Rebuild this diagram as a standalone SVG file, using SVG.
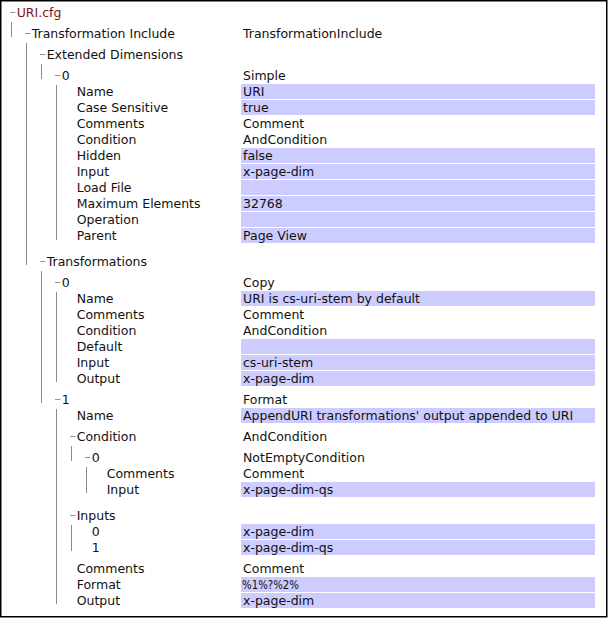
<svg xmlns="http://www.w3.org/2000/svg" width="608" height="618" viewBox="0 0 608 618">
<style>
text{font-family:"DejaVu Sans","Liberation Sans",sans-serif;font-size:12.5px;fill:#111}
.root{fill:#7f1414}
.hl{fill:#ccccff}
.tree line{stroke:#8c8c8c;stroke-width:1}
.dash{stroke:#999;stroke-width:1}
</style>
<rect x="0.75" y="0.75" width="606" height="616" fill="#fff" stroke="#000" stroke-width="1.5"/>
<g id="connectors" class="tree">
<line x1="11.5" y1="22" x2="11.5" y2="37"/>
<line x1="26.5" y1="43" x2="26.5" y2="265"/>
<line x1="41.5" y1="64" x2="41.5" y2="79"/>
<line x1="56.5" y1="85" x2="56.5" y2="240"/>
<line x1="41.5" y1="271" x2="41.5" y2="403"/>
<line x1="56.5" y1="292" x2="56.5" y2="382"/>
<line x1="56.5" y1="409" x2="56.5" y2="604"/>
<line x1="71.5" y1="446" x2="71.5" y2="461"/>
<line x1="86.5" y1="467" x2="86.5" y2="493"/>
<line x1="71.5" y1="525" x2="71.5" y2="551"/>
</g>
<g id="n-uricfg"><line class="dash" x1="10" y1="12.5" x2="15.5" y2="12.5"/><text class="root" x="16.7" y="17">URI.cfg</text></g>
<g id="n-ti"><line class="dash" x1="25" y1="33.5" x2="30.5" y2="33.5"/><text x="31.7" y="38">Transformation Include</text><text x="243" y="38">TransformationInclude</text></g>
<g id="n-ed"><line class="dash" x1="40" y1="54.5" x2="45.5" y2="54.5"/><text x="46.7" y="59">Extended Dimensions</text></g>
<g id="n-ed0"><line class="dash" x1="55" y1="75.5" x2="60.5" y2="75.5"/><text x="61.7" y="80">0</text><text x="243" y="80">Simple</text></g>
<g id="n-ed0-name"><rect class="hl" x="241" y="84" width="354" height="15"/><text x="76.7" y="96">Name</text><text x="243" y="96">URI</text></g>
<g id="n-ed0-case"><rect class="hl" x="241" y="100" width="354" height="15"/><text x="76.7" y="112">Case Sensitive</text><text x="243" y="112">true</text></g>
<g id="n-ed0-comments"><text x="76.7" y="128">Comments</text><text x="243" y="128">Comment</text></g>
<g id="n-ed0-condition"><text x="76.7" y="144">Condition</text><text x="243" y="144">AndCondition</text></g>
<g id="n-ed0-hidden"><rect class="hl" x="241" y="148" width="354" height="15"/><text x="76.7" y="160">Hidden</text><text x="243" y="160">false</text></g>
<g id="n-ed0-input"><rect class="hl" x="241" y="164" width="354" height="15"/><text x="76.7" y="176">Input</text><text x="243" y="176">x-page-dim</text></g>
<g id="n-ed0-loadfile"><rect class="hl" x="241" y="180" width="354" height="15"/><text x="76.7" y="192">Load File</text></g>
<g id="n-ed0-max"><rect class="hl" x="241" y="196" width="354" height="15"/><text x="76.7" y="208">Maximum Elements</text><text x="243" y="208">32768</text></g>
<g id="n-ed0-operation"><rect class="hl" x="241" y="212" width="354" height="15"/><text x="76.7" y="224">Operation</text></g>
<g id="n-ed0-parent"><rect class="hl" x="241" y="228" width="354" height="15"/><text x="76.7" y="240">Parent</text><text x="243" y="240">Page View</text></g>
<g id="n-tr"><line class="dash" x1="40" y1="261.5" x2="45.5" y2="261.5"/><text x="46.7" y="266">Transformations</text></g>
<g id="n-tr0"><line class="dash" x1="55" y1="282.5" x2="60.5" y2="282.5"/><text x="61.7" y="287">0</text><text x="243" y="287">Copy</text></g>
<g id="n-tr0-name"><rect class="hl" x="241" y="291" width="354" height="15"/><text x="76.7" y="303">Name</text><text x="243" y="303">URI is cs-uri-stem by default</text></g>
<g id="n-tr0-comments"><text x="76.7" y="319">Comments</text><text x="243" y="319">Comment</text></g>
<g id="n-tr0-condition"><text x="76.7" y="335">Condition</text><text x="243" y="335">AndCondition</text></g>
<g id="n-tr0-default"><rect class="hl" x="241" y="339" width="354" height="15"/><text x="76.7" y="351">Default</text></g>
<g id="n-tr0-input"><rect class="hl" x="241" y="355" width="354" height="15"/><text x="76.7" y="367">Input</text><text x="243" y="367">cs-uri-stem</text></g>
<g id="n-tr0-output"><rect class="hl" x="241" y="371" width="354" height="15"/><text x="76.7" y="383">Output</text><text x="243" y="383">x-page-dim</text></g>
<g id="n-tr1"><line class="dash" x1="55" y1="399.5" x2="60.5" y2="399.5"/><text x="61.7" y="404">1</text><text x="243" y="404">Format</text></g>
<g id="n-tr1-name"><rect class="hl" x="241" y="408" width="354" height="15"/><text x="76.7" y="420">Name</text><text x="243" y="420">AppendURI transformations' output appended to URI</text></g>
<g id="n-tr1-condition"><line class="dash" x1="70" y1="436.5" x2="75.5" y2="436.5"/><text x="76.7" y="441">Condition</text><text x="243" y="441">AndCondition</text></g>
<g id="n-tr1-cond0"><line class="dash" x1="85" y1="457.5" x2="90.5" y2="457.5"/><text x="91.7" y="462">0</text><text x="243" y="462">NotEmptyCondition</text></g>
<g id="n-tr1-cond0-comments"><text x="106.7" y="478">Comments</text><text x="243" y="478">Comment</text></g>
<g id="n-tr1-cond0-input"><rect class="hl" x="241" y="482" width="354" height="15"/><text x="106.7" y="494">Input</text><text x="243" y="494">x-page-dim-qs</text></g>
<g id="n-tr1-inputs"><line class="dash" x1="70" y1="515.5" x2="75.5" y2="515.5"/><text x="76.7" y="520">Inputs</text></g>
<g id="n-tr1-inputs0"><rect class="hl" x="241" y="524" width="354" height="15"/><text x="91.7" y="536">0</text><text x="243" y="536">x-page-dim</text></g>
<g id="n-tr1-inputs1"><rect class="hl" x="241" y="540" width="354" height="15"/><text x="91.7" y="552">1</text><text x="243" y="552">x-page-dim-qs</text></g>
<g id="n-tr1-comments"><text x="76.7" y="573">Comments</text><text x="243" y="573">Comment</text></g>
<g id="n-tr1-format"><rect class="hl" x="241" y="577" width="354" height="15"/><text x="76.7" y="589">Format</text><text x="242" y="589" textLength="57" lengthAdjust="spacingAndGlyphs">%1%?%2%</text></g>
<g id="n-tr1-output"><rect class="hl" x="241" y="593" width="354" height="15"/><text x="76.7" y="605">Output</text><text x="243" y="605">x-page-dim</text></g>
</svg>
